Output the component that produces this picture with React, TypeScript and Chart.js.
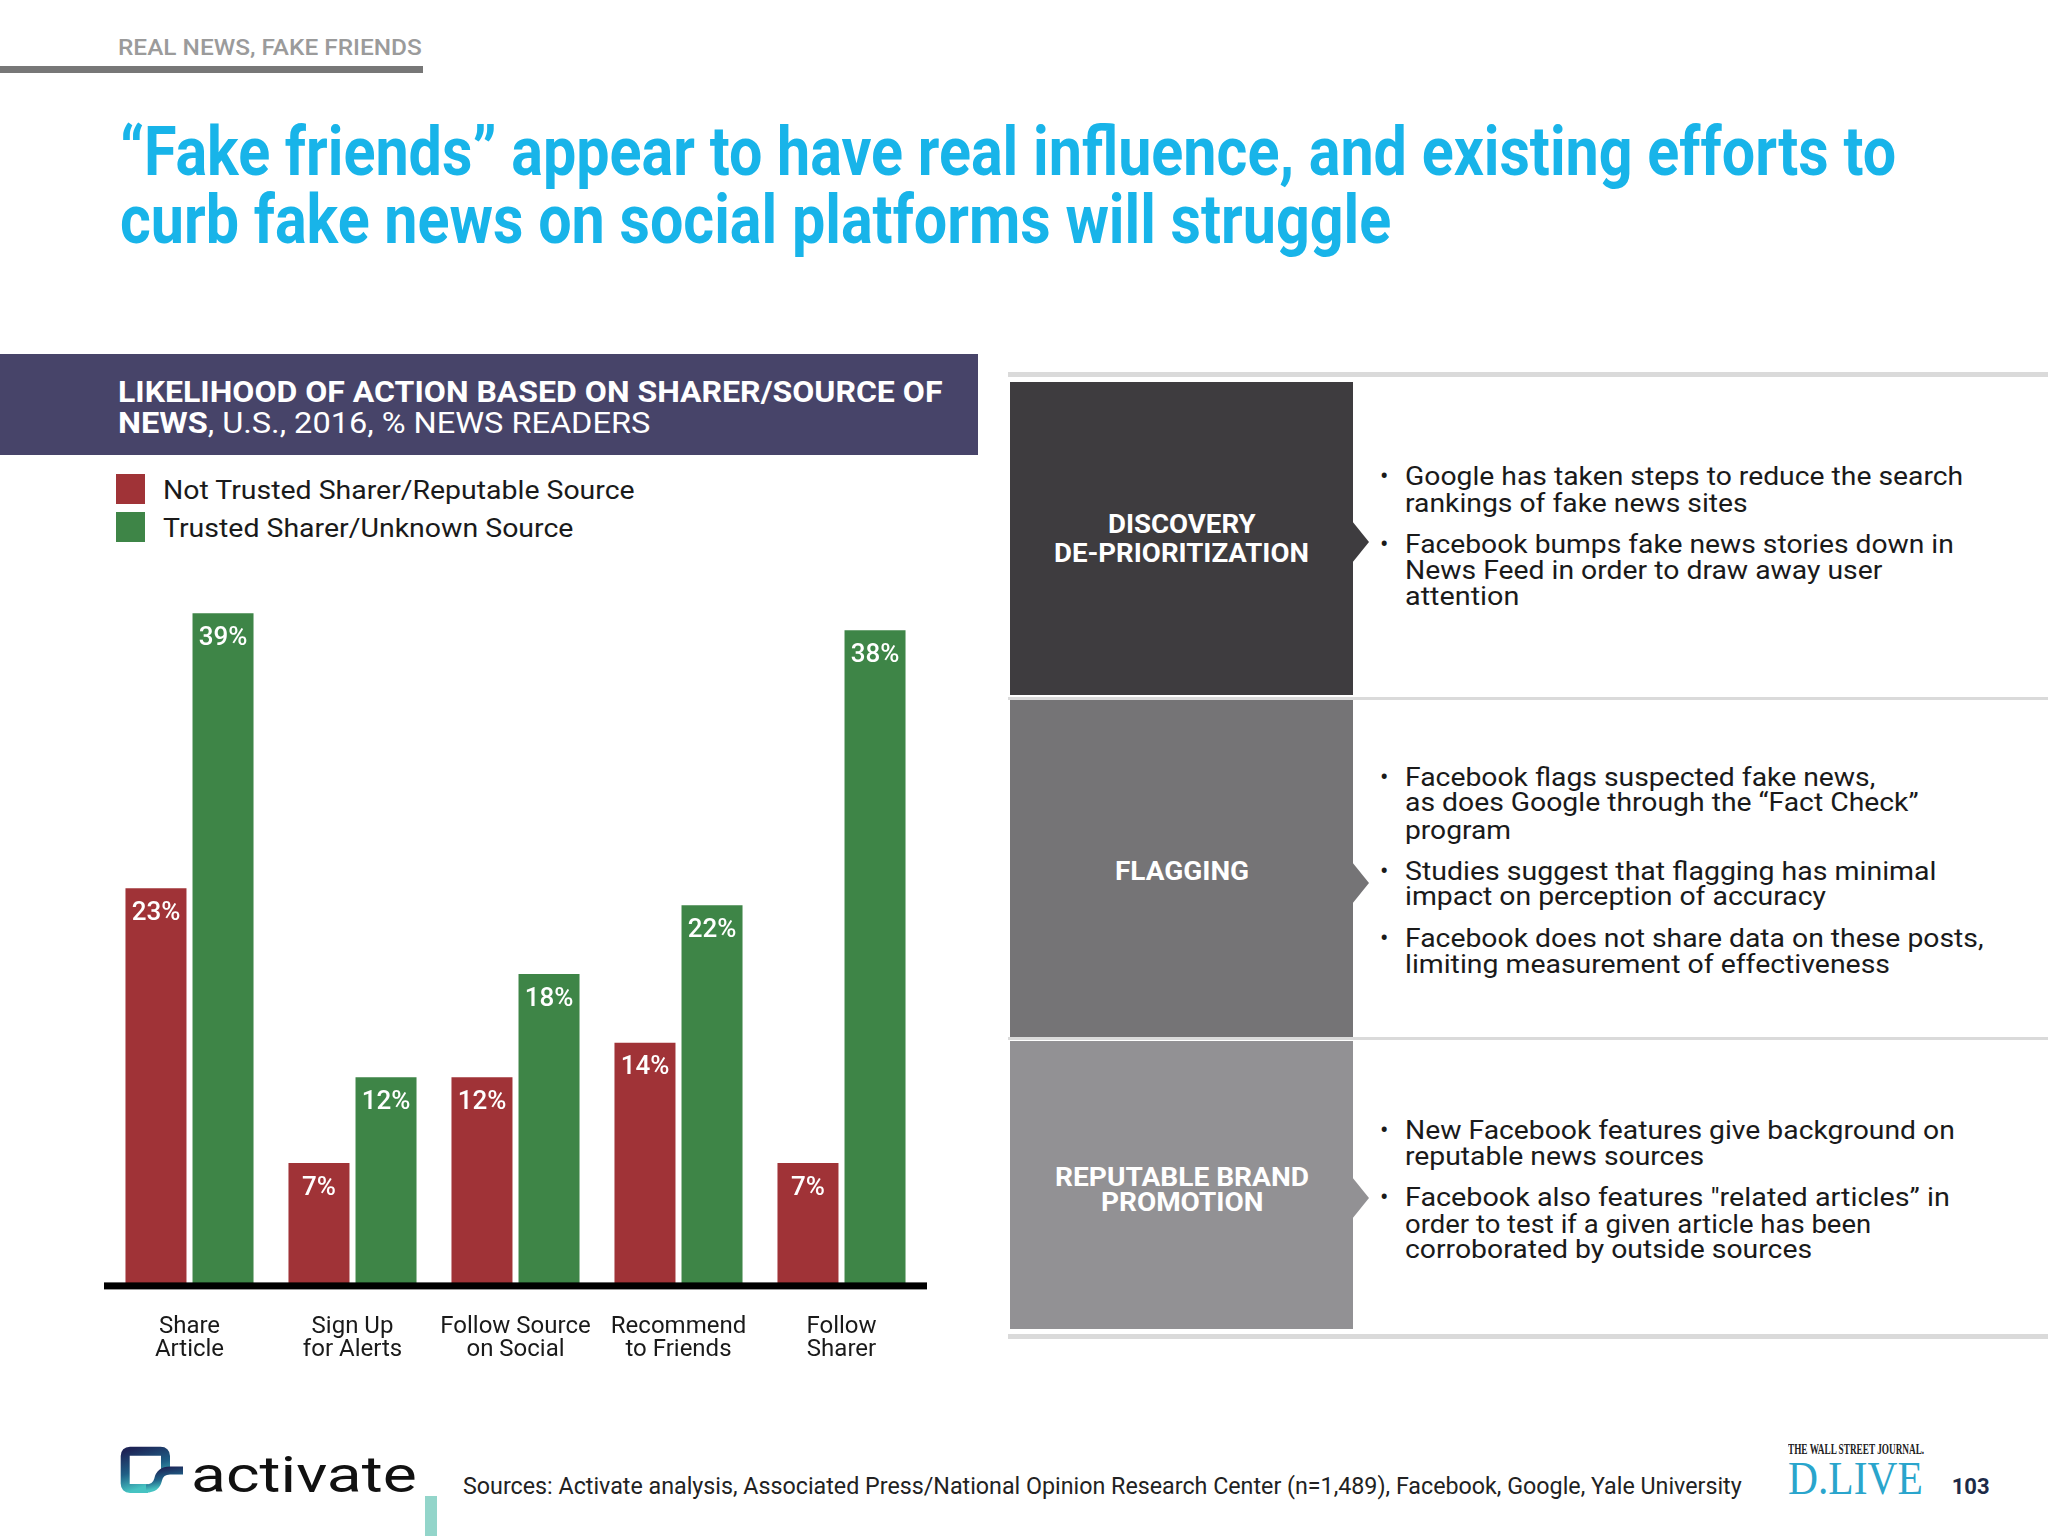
import React, { useEffect, useLayoutEffect, useRef, useState } from "react";
import { Chart, registerables } from "chart.js";

Chart.register(...registerables);

// ---------- data ----------
const categories: string[][] = [
  ["Share", "Article"],
  ["Sign Up", "for Alerts"],
  ["Follow Source", "on Social"],
  ["Recommend", "to Friends"],
  ["Follow", "Sharer"],
];
const notTrustedValues = [23, 7, 12, 14, 7];
const trustedValues = [39, 12, 18, 22, 38];
const seriesNames = ["Not Trusted Sharer/Reputable Source", "Trusted Sharer/Unknown Source"];
const seriesColors = ["#a03337", "#3e8547"];
const yAxisMax = 40;

const FONT = "Roboto, 'Noto Sans', sans-serif";
const SERIF = "'Liberation Serif', 'DejaVu Serif', serif";

// ---------- text helper ----------
type FitProps = {
  x: number;
  baseline: number;
  size: number;
  width: number;
  weight?: number;
  color?: string;
  family?: string;
  align?: "left" | "center";
  children: React.ReactNode;
};

function FitText({ x, baseline, size, width, weight = 400, color = "#1a1a1a", family = FONT, align = "left", children }: FitProps) {
  const ref = useRef<HTMLDivElement>(null);
  const [sx, setSx] = useState(1);
  useLayoutEffect(() => {
    const measure = () => {
      const el = ref.current;
      if (!el) return;
      const w = el.offsetWidth;
      if (w > 0) setSx(width / w);
    };
    measure();
    const f = (document as any).fonts;
    if (f && f.ready) f.ready.then(measure);
  }, [width]);
  const left = align === "center" ? x - width / 2 : x;
  return (
    <div
      ref={ref}
      style={{
        position: "absolute",
        left,
        top: baseline - 0.84 * size,
        width: "max-content",
        whiteSpace: "nowrap",
        fontFamily: family,
        fontSize: size,
        lineHeight: `${size}px`,
        fontWeight: weight,
        color,
        transform: `scaleX(${sx})`,
        transformOrigin: "left top",
      }}
    >
      {children}
    </div>
  );
}

function Rect({ x, y, w, h, c }: { x: number; y: number; w: number; h: number; c: string }) {
  return <div style={{ position: "absolute", left: x, top: y, width: w, height: h, background: c }} />;
}

// ---------- chart ----------
const CANVAS_LEFT = 0;
const CANVAS_TOP = 560;
const CANVAS_W = 1000;
const CANVAS_H = 850;

function BarChart() {
  const ref = useRef<HTMLCanvasElement>(null);
  useEffect(() => {
    if (!ref.current) return;
    const overlay = {
      id: "overlay",
      afterDatasetsDraw(chart: any) {
        const ctx = chart.ctx;
        ctx.save();
        ctx.fillStyle = "#ffffff";
        ctx.font = "500 26px Roboto";
        ctx.textAlign = "center";
        ctx.textBaseline = "middle";
        chart.data.datasets.forEach((ds: any, i: number) => {
          const meta = chart.getDatasetMeta(i);
          meta.data.forEach((el: any, j: number) => {
            ctx.fillText(`${ds.data[j]}%`, el.x, el.y + 25);
          });
        });
        const a = chart.chartArea;
        ctx.fillStyle = "#000000";
        ctx.fillRect(a.left - 4, a.bottom - 1, a.right - a.left + 8, 7);
        ctx.restore();
      },
    };
    const chart = new Chart(ref.current, {
      type: "bar",
      data: {
        labels: categories,
        datasets: [
          {
            label: seriesNames[0],
            data: notTrustedValues,
            backgroundColor: seriesColors[0],
            categoryPercentage: 0.8226,
            barPercentage: 0.91,
          },
          {
            label: seriesNames[1],
            data: trustedValues,
            backgroundColor: seriesColors[1],
            categoryPercentage: 0.8226,
            barPercentage: 0.91,
          },
        ],
      },
      options: {
        responsive: false,
        animation: false,
        devicePixelRatio: 1,
        layout: { padding: { left: 108, right: CANVAS_W - 923, top: 36, bottom: 17 } },
        plugins: { legend: { display: false }, tooltip: { enabled: false } },
        scales: {
          x: {
            grid: { display: false, drawTicks: false },
            border: { display: false },
            ticks: {
              color: "#1a1a1a",
              font: { family: "Roboto", size: 24, lineHeight: 0.95 },
              padding: 32,
              maxRotation: 0,
              autoSkip: false,
            },
          },
          y: { display: false, min: 0, max: yAxisMax },
        },
      },
      plugins: [overlay],
    } as any);
    return () => chart.destroy();
  }, []);
  return (
    <canvas
      ref={ref}
      width={CANVAS_W}
      height={CANVAS_H}
      style={{ position: "absolute", left: CANVAS_LEFT, top: CANVAS_TOP, width: CANVAS_W, height: CANVAS_H }}
    />
  );
}

// ---------- right panel ----------
type Line = { t: string; b: number; w: number; bullet?: boolean };
const box1Lines: Line[] = [
  { t: "Google has taken steps to reduce the search", b: 485, w: 558, bullet: true },
  { t: "rankings of fake news sites", b: 511.7, w: 343 },
  { t: "Facebook bumps fake news stories down in", b: 553, w: 549, bullet: true },
  { t: "News Feed in order to draw away user", b: 579, w: 477 },
  { t: "attention", b: 605, w: 114 },
];
const box2Lines: Line[] = [
  { t: "Facebook flags suspected fake news,", b: 785.7, w: 470, bullet: true },
  { t: "as does Google through the \u201cFact Check\u201d", b: 811, w: 513 },
  { t: "program", b: 838.8, w: 106 },
  { t: "Studies suggest that flagging has minimal", b: 879.6, w: 532, bullet: true },
  { t: "impact on perception of accuracy", b: 904.9, w: 421 },
  { t: "Facebook does not share data on these posts,", b: 947, w: 579, bullet: true },
  { t: "limiting measurement of effectiveness", b: 972.7, w: 485 },
];
const box3Lines: Line[] = [
  { t: "New Facebook features give background on", b: 1138.8, w: 550, bullet: true },
  { t: "reputable news sources", b: 1165, w: 299 },
  { t: "Facebook also features \"related articles\u201d  in", b: 1206, w: 545, bullet: true },
  { t: "order to test if a given article has been", b: 1232.7, w: 466 },
  { t: "corroborated by outside sources", b: 1258.4, w: 407 },
];

function Bullets({ lines }: { lines: Line[] }) {
  return (
    <>
      {lines.map((l, i) => (
        <React.Fragment key={i}>
          {l.bullet && (
            <div
              style={{
                position: "absolute",
                left: 1380,
                top: l.b - 0.84 * 25,
                fontFamily: FONT,
                fontSize: 25,
                lineHeight: "25px",
                color: "#1a1a1a",
              }}
            >
              •
            </div>
          )}
          <FitText x={1404.5} baseline={l.b} size={25} width={l.w}>
            {l.t}
          </FitText>
        </React.Fragment>
      ))}
    </>
  );
}

function Arrow({ cy, color }: { cy: number; color: string }) {
  return (
    <svg style={{ position: "absolute", left: 1352, top: cy - 21 }} width={18} height={42}>
      <polygon points="0,0 17,21 0,42" fill={color} />
    </svg>
  );
}

export default function App() {
  return (
    <div
      style={{
        position: "absolute",
        left: 0,
        top: 0,
        width: 2048,
        height: 1536,
        overflow: "hidden",
        background: "#ffffff",
        fontFamily: FONT,
      }}
    >
      {/* header */}
      <FitText x={118} baseline={55} size={22} width={304} weight={500} color="#9b9b9b">
        REAL NEWS, FAKE FRIENDS
      </FitText>
      <Rect x={0} y={66} w={423} h={7} c="#777777" />

      {/* title */}
      <FitText x={120} baseline={175} size={69} width={1776} weight={700} color="#18b4e9">
        {"\u201cFake friends\u201d appear to have real influence, and existing efforts to"}
      </FitText>
      <FitText x={120} baseline={243} size={69} width={1271} weight={700} color="#18b4e9">
        curb fake news on social platforms will struggle
      </FitText>

      {/* chart band */}
      <Rect x={0} y={354} w={978} h={101} c="#474469" />
      <FitText x={118} baseline={401.7} size={30} width={825} weight={700} color="#ffffff">
        LIKELIHOOD OF ACTION BASED ON SHARER/SOURCE OF
      </FitText>
      <FitText x={118} baseline={433} size={30} width={532} weight={400} color="#ffffff">
        <span style={{ fontWeight: 700 }}>NEWS</span>, U.S., 2016, % NEWS READERS
      </FitText>

      {/* legend */}
      <Rect x={116} y={474} w={29} h={30} c={seriesColors[0]} />
      <Rect x={116} y={512} w={29} h={30} c={seriesColors[1]} />
      <FitText x={162.6} baseline={499} size={25} width={472}>
        {seriesNames[0]}
      </FitText>
      <FitText x={162.6} baseline={536.7} size={25} width={410}>
        {seriesNames[1]}
      </FitText>

      <BarChart />

      {/* right panel */}
      <Rect x={1008} y={372} w={1040} h={5} c="#dadada" />
      <Rect x={1010} y={382} w={343} h={313} c="#3e3c3f" />
      <Arrow cy={542} color="#3e3c3f" />
      <Rect x={1008} y={697} w={1040} h={3} c="#dadada" />
      <Rect x={1010} y={700} w={343} h={337} c="#757476" />
      <Arrow cy={883} color="#757476" />
      <Rect x={1008} y={1037} w={1040} h={3} c="#dadada" />
      <Rect x={1010} y={1041} w={343} h={288} c="#929194" />
      <Arrow cy={1198} color="#929194" />
      <Rect x={1008} y={1334} w={1040} h={5} c="#dadada" />

      <FitText x={1181.5} baseline={533.3} size={25} width={148} weight={700} color="#ffffff" align="center">
        DISCOVERY
      </FitText>
      <FitText x={1181.5} baseline={561.7} size={25} width={255} weight={700} color="#ffffff" align="center">
        DE-PRIORITIZATION
      </FitText>
      <FitText x={1181.5} baseline={879.6} size={25} width={134} weight={700} color="#ffffff" align="center">
        FLAGGING
      </FitText>
      <FitText x={1181.5} baseline={1185.7} size={25} width={254} weight={700} color="#ffffff" align="center">
        REPUTABLE BRAND
      </FitText>
      <FitText x={1181.5} baseline={1211.4} size={25} width={162} weight={700} color="#ffffff" align="center">
        PROMOTION
      </FitText>

      <Bullets lines={box1Lines} />
      <Bullets lines={box2Lines} />
      <Bullets lines={box3Lines} />

      {/* footer */}
      <svg style={{ position: "absolute", left: 116, top: 1442 }} width={72} height={56}>
        <defs>
          <linearGradient id="actg" x1="0" y1="0" x2="0.35" y2="1">
            <stop offset="0" stopColor="#1d2456" />
            <stop offset="0.55" stopColor="#1f5f86" />
            <stop offset="1" stopColor="#46c3c2" />
          </linearGradient>
        </defs>
        <path
          d="M 32 46.5 L 14 46.5 Q 9.2 46.5 9.2 41.5 L 9.2 14 Q 9.2 9.2 14 9.2 L 44.5 9.2 Q 49.5 9.2 49.5 14 L 49.5 28"
          stroke="url(#actg)"
          strokeWidth={9}
          fill="none"
          strokeLinecap="butt"
        />
        <path d="M 30 46.5 Q 40 46.5 42 38 Q 44 28.5 54 28.5 L 67 28.5" stroke="url(#actg)" strokeWidth={8} fill="none" />
      </svg>
      <FitText x={190.7} baseline={1491.7} size={50} width={226} weight={400} color="#111111">
        activate
      </FitText>
      <Rect x={425} y={1496} w={12} h={40} c="#93d5ca" />
      <FitText x={462.7} baseline={1494} size={24} width={1279} color="#222222">
        Sources: Activate analysis, Associated Press/National Opinion Research Center (n=1,489), Facebook, Google, Yale University
      </FitText>
      <FitText x={1788} baseline={1455} size={15} width={136} weight={700} color="#222222" family={SERIF}>
        THE WALL STREET JOURNAL.
      </FitText>
      <FitText x={1788} baseline={1494} size={47} width={135} weight={400} color="#2aa5cc" family={SERIF}>
        D.LIVE
      </FitText>
      <FitText x={1951.7} baseline={1494} size={22} width={38} weight={700} color="#1d2b48">
        103
      </FitText>
    </div>
  );
}
